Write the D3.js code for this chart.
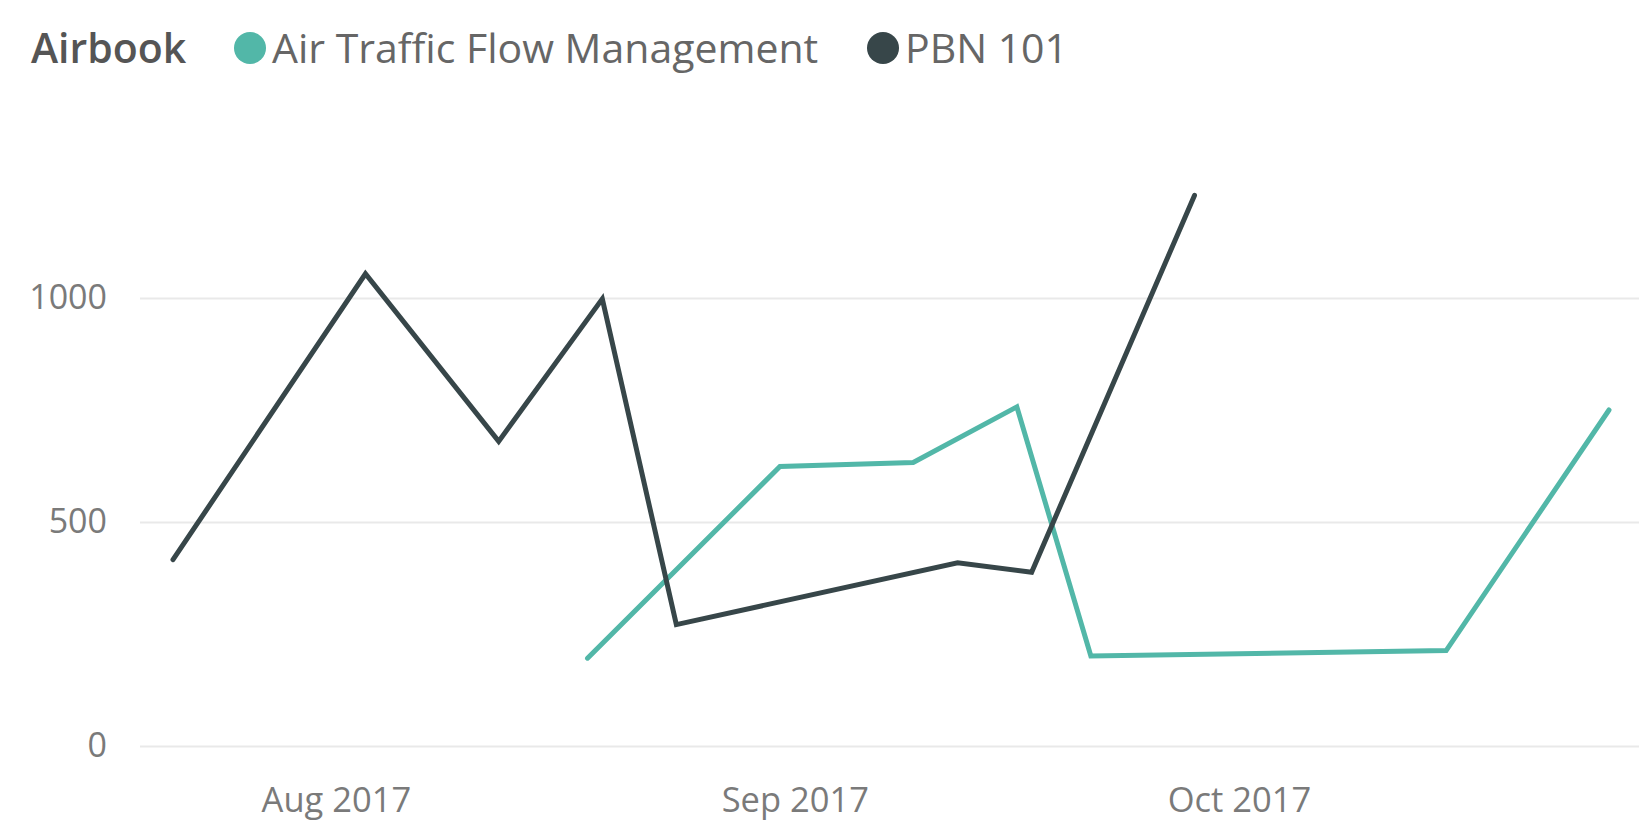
<!DOCTYPE html>
<html>
<head>
<meta charset="utf-8">
<script src="https://cdn.jsdelivr.net/npm/d3@7"></script>
<style>
  body { margin: 0; background: #fff; }
  text { font-family: "Segoe UI", "Open Sans", sans-serif; }
</style>
</head>
<body>
<div id="chart"></div>
<script>
// legend / series names
var legendTitle = "Airbook";
var seriesNames = ["Air Traffic Flow Management", "PBN 101"];
var seriesColors = ["#52b7a8", "#374649"];

// Air Traffic Flow Management
var atfmDates  = ["2017-08-18", "2017-08-31", "2017-09-09", "2017-09-16", "2017-09-21", "2017-10-15", "2017-10-26"];
var atfmValues = [196, 624, 633, 757, 201, 213, 750];

// PBN 101
var pbnDates  = ["2017-07-21", "2017-08-03", "2017-08-12", "2017-08-19", "2017-08-24", "2017-09-12", "2017-09-17", "2017-09-28"];
var pbnValues = [416, 1054, 680, 998, 271, 409, 388, 1229];

var yTicks = [0, 500, 1000];

var width = 1639, height = 836;
var parse = d3.utcParse("%Y-%m-%d");

var svg = d3.select("#chart").append("svg")
    .attr("width", width)
    .attr("height", height);

var series = [
  { name: seriesNames[0], color: seriesColors[0], pts: atfmDates.map(function(d, i) { return { date: parse(d), value: atfmValues[i] }; }) },
  { name: seriesNames[1], color: seriesColors[1], pts: pbnDates.map(function(d, i) { return { date: parse(d), value: pbnValues[i] }; }) }
];

var allDates = atfmDates.concat(pbnDates).map(parse);

var x = d3.scaleUtc()
    .domain(d3.extent(allDates))
    .range([173, 1609]);

var y = d3.scaleLinear()
    .domain([0, 1000])
    .range([746, 298]);

// gridlines + y labels
var yAxis = d3.axisLeft(y)
    .tickValues(yTicks)
    .tickSize(-(width - 140))
    .tickPadding(33)
    .tickFormat(d3.format("d"));

var gy = svg.append("g")
    .attr("transform", "translate(140,0)")
    .call(yAxis);
gy.select(".domain").remove();
gy.selectAll(".tick line").attr("stroke", "#e9e9e9").attr("stroke-width", 2);
gy.selectAll(".tick text")
    .attr("fill", "#7a7a7a")
    .style("font-size", "34px");

// x labels
var xAxis = d3.axisBottom(x)
    .ticks(d3.utcMonth.every(1))
    .tickSize(0)
    .tickPadding(0)
    .tickFormat(d3.utcFormat("%b %Y"));

var gx = svg.append("g")
    .attr("transform", "translate(0,787)")
    .call(xAxis);
gx.select(".domain").remove();
gx.selectAll(".tick text")
    .attr("fill", "#7a7a7a")
    .attr("dy", "0.71em")
    .style("font-size", "34.5px");

// lines
var line = d3.line()
    .x(function(d) { return x(d.date); })
    .y(function(d) { return y(d.value); });

svg.selectAll(".series")
    .data(series)
    .enter().append("path")
    .attr("class", "series")
    .attr("fill", "none")
    .attr("stroke", function(d) { return d.color; })
    .attr("stroke-width", 5)
    .attr("stroke-linecap", "round")
    .attr("d", function(d) { return line(d.pts); });

// legend
var legend = svg.append("g").attr("class", "legend");
legend.append("text")
    .attr("x", 31)
    .attr("y", 63)
    .attr("fill", "#555")
    .style("font-size", "41px")
    .style("font-weight", 600)
    .text(legendTitle);

var legendX = [250, 883];
series.forEach(function(s, i) {
  legend.append("circle")
      .attr("cx", legendX[i])
      .attr("cy", 48)
      .attr("r", 16)
      .attr("fill", s.color);
  legend.append("text")
      .attr("x", legendX[i] + 22)
      .attr("y", 63)
      .attr("fill", "#666")
      .style("font-size", "41px")
      .text(s.name);
});
</script>
</body>
</html>
